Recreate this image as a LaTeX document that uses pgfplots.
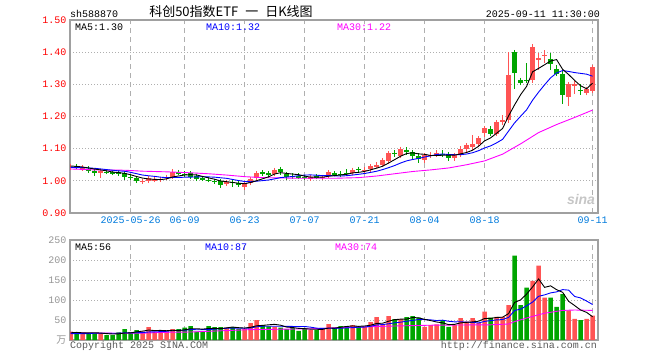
\documentclass[border=0pt]{standalone}
\usepackage{pgfplots}
\pgfplotsset{compat=1.18}
\usepackage{pgfplotstable}
\usepackage{fontspec}
\setmainfont{Liberation Mono}
\setsansfont{Liberation Sans}
\newfontfamily\cjk{Noto Sans CJK SC}
\definecolor{cred}{RGB}{255,84,84}
\definecolor{cgreen}{RGB}{0,165,0}
\definecolor{cdate}{RGB}{0,122,220}
\definecolor{cframe}{RGB}{160,160,160}
\definecolor{cgrid}{RGB}{175,175,175}
\definecolor{clabel}{RGB}{150,150,150}
\definecolor{ccopy}{RGB}{90,90,90}
\definecolor{cmag}{RGB}{255,0,255}

% up (red) candles: index open high low close volume
\pgfplotstableread{
i o h l c v
0 1.040 1.047 1.038 1.044 21
2 1.040 1.047 1.031 1.042 17
5 1.024 1.032 1.010 1.031 17
12 0.998 1.002 0.995 1.000 21
13 1.000 1.012 0.996 1.008 32
14 1.002 1.007 1.000 1.005 21
15 1.003 1.008 1.000 1.006 21
16 1.011 1.016 1.008 1.012 21
17 1.013 1.030 1.012 1.029 27
26 0.993 0.998 0.985 0.995 31
29 0.980 0.992 0.972 0.990 27
30 0.993 1.006 0.990 1.005 42
31 1.008 1.025 1.006 1.023 50
34 1.021 1.034 1.020 1.033 33
40 1.008 1.017 1.006 1.011 25
42 1.010 1.015 1.005 1.012 30
43 1.016 1.028 1.014 1.026 40
47 1.024 1.035 1.022 1.034 37
49 1.033 1.039 1.031 1.035 33
50 1.036 1.046 1.035 1.045 45
51 1.046 1.059 1.041 1.048 57
52 1.049 1.065 1.048 1.064 40
53 1.061 1.090 1.060 1.085 60
55 1.078 1.100 1.077 1.099 52
59 1.065 1.082 1.057 1.080 33
60 1.078 1.083 1.075 1.081 37
61 1.081 1.090 1.079 1.088 39
64 1.070 1.082 1.067 1.080 37
65 1.082 1.105 1.080 1.100 55
66 1.098 1.112 1.096 1.110 46
67 1.104 1.142 1.102 1.116 55
68 1.115 1.140 1.112 1.132 42
69 1.148 1.167 1.136 1.164 71
71 1.146 1.183 1.144 1.182 58
72 1.182 1.206 1.177 1.190 58
73 1.188 1.400 1.186 1.328 87
77 1.312 1.422 1.310 1.417 148
78 1.378 1.396 1.345 1.381 186
79 1.388 1.406 1.366 1.392 106
83 1.260 1.302 1.234 1.300 74
84 1.298 1.310 1.270 1.300 53
86 1.273 1.290 1.272 1.286 53
87 1.280 1.355 1.275 1.354 61
}\uptab

% down (green) candles
\pgfplotstableread{
i o h l c v
1 1.045 1.052 1.037 1.043 19
3 1.038 1.040 1.024 1.031 17
4 1.031 1.032 1.018 1.023 17
6 1.029 1.031 1.022 1.027 12
7 1.027 1.029 1.020 1.024 12
8 1.026 1.030 1.020 1.022 19
9 1.023 1.025 1.005 1.011 27
10 1.012 1.016 1.004 1.010 19
11 1.008 1.010 0.998 1.000 25
18 1.027 1.032 1.020 1.024 27
19 1.022 1.025 1.015 1.019 31
20 1.023 1.025 1.008 1.013 35
21 1.015 1.016 1.003 1.006 21
22 1.008 1.011 1.000 1.006 22
23 1.004 1.006 0.995 1.002 35
24 1.000 1.003 0.990 0.998 32
25 0.998 0.999 0.985 0.986 32
27 0.996 0.999 0.982 0.994 32
28 0.992 0.994 0.980 0.990 27
32 1.026 1.030 1.016 1.024 37
33 1.024 1.026 1.010 1.021 34
35 1.036 1.038 1.024 1.026 31
36 1.021 1.022 1.010 1.011 27
37 1.016 1.018 1.012 1.014 31
38 1.014 1.023 1.005 1.012 23
39 1.012 1.016 1.004 1.010 30
41 1.014 1.021 1.008 1.012 25
44 1.023 1.026 1.016 1.021 29
45 1.022 1.024 1.016 1.020 35
46 1.024 1.036 1.018 1.022 35
48 1.037 1.042 1.029 1.035 35
54 1.088 1.089 1.073 1.087 52
56 1.097 1.104 1.083 1.089 57
57 1.089 1.097 1.070 1.076 60
58 1.078 1.080 1.055 1.068 56
62 1.083 1.096 1.077 1.081 50
63 1.083 1.085 1.068 1.070 33
70 1.162 1.165 1.142 1.146 56
74 1.400 1.400 1.286 1.335 211
75 1.314 1.318 1.297 1.304 87
76 1.315 1.367 1.307 1.311 131
80 1.378 1.396 1.346 1.362 106
81 1.347 1.360 1.330 1.333 83
82 1.333 1.335 1.2375 1.266 115
85 1.283 1.300 1.266 1.279 50
}\downtab

% moving averages: price MA5, MA10; volume MA5, MA10
\pgfplotstableread{
i ma5 ma10 vma5 vma10
0 1.046 1.042 18 16
1 1.045 1.041 19 16
2 1.043 1.041 18 16
3 1.040 1.040 18 16
4 1.0366 1.039 18.2 17
5 1.034 1.037 17.4 17
6 1.031 1.035 16 17
7 1.0274 1.033 15 17
8 1.0256 1.031 15.4 17
9 1.0232 1.0299 17.4 17.8
10 1.019 1.0265 17.8 17.6
11 1.0134 1.0222 20.4 18.2
12 1.0086 1.018 22.2 18.6
13 1.0058 1.0157 24.8 20.1
14 1.0046 1.0139 23.6 20.5
15 1.0038 1.0114 24 20.9
16 1.0062 1.0098 23.2 21.8
17 1.012 1.0103 24.4 23.3
18 1.0152 1.0105 23.4 24.1
19 1.018 1.0113 25.4 24.5
20 1.0194 1.0116 28.2 26.1
21 1.0182 1.0122 28.2 25.7
22 1.0136 1.0128 27.2 25.8
23 1.0092 1.0122 28.8 26.1
24 1.005 1.0115 29 27.2
25 0.9996 1.0095 28.4 28.3
26 0.9974 1.0078 30.4 29.3
27 0.995 1.0043 32.4 29.8
28 0.9926 1.0009 30.8 29.8
29 0.991 0.998 29.8 29.4
30 0.9948 0.9972 31.8 30.1
31 1.0004 0.9989 35.6 33
32 1.0064 1.0007 36.6 34.5
33 1.0126 1.0026 38 34.4
34 1.0212 1.0061 39.2 34.5
35 1.0254 1.0101 37 34.4
36 1.023 1.0117 32.4 34
37 1.021 1.0137 31.2 33.9
38 1.0192 1.0159 29 33.5
39 1.0146 1.0179 28.4 33.8
40 1.0116 1.0185 27.2 32.1
41 1.0118 1.0174 26.8 29.6
42 1.0114 1.0162 26.6 28.9
43 1.0142 1.0167 30 29.5
44 1.0164 1.0155 29.8 29.1
45 1.0182 1.0149 31.8 29.5
46 1.0202 1.016 33.8 30.3
47 1.0246 1.018 35.2 30.9
48 1.0264 1.0203 34.2 32.1
49 1.0292 1.0228 35 32.4
50 1.0342 1.0262 37 34.4
51 1.0394 1.0298 41.4 37.6
52 1.0454 1.035 42 38.6
53 1.0554 1.0409 47 40.6
54 1.0658 1.0475 50.8 42.9
55 1.0766 1.0554 52.2 44.6
56 1.0848 1.0621 52.2 46.8
57 1.0872 1.0663 56.2 49.1
58 1.0838 1.0696 55.4 51.2
59 1.0824 1.0741 51.6 51.2
60 1.0788 1.0777 48.6 50.4
61 1.0786 1.0817 45 48.6
62 1.0796 1.0834 43 49.6
63 1.080 1.0819 38.4 46.9
64 1.080 1.0812 39.2 45.4
65 1.0838 1.0813 42.8 45.7
66 1.0882 1.0834 44.2 44.6
67 1.0952 1.0874 45.2 44.1
68 1.1076 1.0938 47 42.7
69 1.1244 1.1022 53.8 46.5
70 1.1336 1.1087 54 48.4
71 1.148 1.1181 56.4 50.3
72 1.1628 1.129 57 51.1
73 1.202 1.1548 66 56.5
74 1.2362 1.1803 94 73.9
75 1.2678 1.2007 100.2 77.1
76 1.2936 1.2208 114.8 85.6
77 1.339 1.2509 132.8 94.9
78 1.3496 1.2758 152.6 109.3
79 1.361 1.2986 131.6 112.8
80 1.3726 1.3202 135.4 117.8
81 1.377 1.3353 125.8 120.3
82 1.3468 1.3429 119.2 126
83 1.3306 1.3401 96.8 124.7
84 1.3122 1.3366 86.2 108.9
85 1.2956 1.3341 75 105.2
86 1.2862 1.3316 69 97.4
87 1.3038 1.3253 58.2 88.7
}\matab

\pgfplotsset{
  kbase/.style={scale only axis, width=528pt, xmin=-0.1, xmax=87.9,
    axis line style={draw=cframe, line width=1.2pt},
    major tick length=0pt,
    xtick={10,19,29,39,49,59,69,87},
    xmajorgrids, ymajorgrids,
    major x grid style={draw=cgrid, line width=1pt, dash pattern=on 5pt off 4pt},
    major y grid style={draw=cgrid, line width=0.9pt, dash pattern=on 1pt off 2pt},
    tick label style={font=\fontsize{10}{12}\selectfont},
  },
  wick/.style={draw=none, mark=none, forget plot,
    error bars/.cd, y dir=both, y explicit, error mark=none,
    error bar style={line width=1pt, draw=#1, solid}},
  body/.style={draw=none, mark=none, forget plot,
    error bars/.cd, y dir=both, y explicit, error mark=-,
    error bar style={line width=4.6pt, draw=#1, solid},
    error mark options={line width=1pt, mark size=2.3pt, draw=#1, solid}},
}

\begin{document}
\begin{tikzpicture}[font=\fontsize{10}{12}\selectfont]
\useasboundingbox (0,0) rectangle (660pt,360pt);

% ---------- price panel ----------
\begin{axis}[kbase, at={(70pt,147pt)}, anchor=south west, height=193pt,
  ymin=0.9, ymax=1.5, ytick={0.9,1.0,1.1,1.2,1.3,1.4,1.5},
  yticklabels={0.90,1.00,1.10,1.20,1.30,1.40,1.50},
  yticklabel style={text=red},
  xticklabels={2025-05-26,06-09,06-23,07-07,07-21,08-04,08-18,09-11},
  xticklabel style={text=cdate},
]
\addplot[wick=cred] table[x=i, y expr={(\thisrow{h}+\thisrow{l})/2}, y error expr={(\thisrow{h}-\thisrow{l})/2}] {\uptab};
\addplot[body=cred] table[x=i, y expr={(\thisrow{o}+\thisrow{c})/2}, y error expr={abs(\thisrow{c}-\thisrow{o})/2}] {\uptab};
\addplot[wick=cgreen] table[x=i, y expr={(\thisrow{h}+\thisrow{l})/2}, y error expr={(\thisrow{h}-\thisrow{l})/2}] {\downtab};
\addplot[body=cgreen] table[x=i, y expr={(\thisrow{o}+\thisrow{c})/2}, y error expr={abs(\thisrow{c}-\thisrow{o})/2}] {\downtab};
% MA30
\addplot[cmag, line width=0.9pt, mark=none] coordinates {
(0,1.037)(4,1.034)(9,1.033)(12,1.030)(16,1.028)(20,1.025)(23,1.022)(26,1.018)(29,1.013)(32,1.010)(38,1.008)(44,1.008)(48,1.010)(51,1.015)(54,1.022)(57,1.029)(60,1.034)(63,1.040)(66,1.050)(69,1.062)(72,1.083)(75,1.115)(78,1.150)(81,1.175)(84,1.197)(87,1.220)};
\addplot[blue, line width=0.9pt, mark=none] table[x=i, y=ma10] {\matab};
\addplot[black, line width=0.9pt, mark=none] table[x=i, y=ma5] {\matab};
\end{axis}

% ---------- volume panel ----------
\begin{axis}[kbase, at={(70pt,20pt)}, anchor=south west, height=100pt,
  ymin=0, ymax=250, ytick={0,50,100,150,200,250},
  yticklabels={{\cjk 万},50,100,150,200,250},
  yticklabel style={text=clabel},
  xticklabels={},
]
\addplot[ybar, bar width=4.6pt, bar shift=0pt, fill=cred, draw=none] table[x=i, y=v] {\uptab};
\addplot[ybar, bar width=4.6pt, bar shift=0pt, fill=cgreen, draw=none] table[x=i, y=v] {\downtab};
\addplot[cmag, line width=0.9pt, mark=none] coordinates {
(0,18)(7,17)(12,17)(15,19)(20,20)(25,23)(30,26)(40,28)(45,31)(54,35)(60,37)(70,38)(73,40)(74,46)(76,55)(79,67)(82,74)(84,75)(87,74)};
\addplot[blue, line width=0.9pt, mark=none] table[x=i, y=vma10] {\matab};
\addplot[black, line width=0.9pt, mark=none] table[x=i, y=vma5] {\matab};
\end{axis}

% ---------- texts ----------
\node[anchor=base west, inner sep=0] at (70pt,343pt) {sh588870};
\node[anchor=base, inner sep=0, font=\cjk\fontsize{13}{15}\selectfont] at (231pt,344pt) {科创50指数ETF\hspace{7pt}一\hspace{7pt}日K线图};
\node[anchor=base east, inner sep=0] at (600pt,343pt) {2025-09-11 11:30:00};
\node[anchor=base west, inner sep=0] at (75pt,330pt) {MA5:1.30};
\node[anchor=base west, inner sep=0, text=blue] at (206pt,330pt) {MA10:1.32};
\node[anchor=base west, inner sep=0, text=cmag] at (337pt,330pt) {MA30:1.22};
\node[anchor=base west, inner sep=0] at (75pt,110pt) {MA5:56};
\node[anchor=base west, inner sep=0, text=blue] at (205pt,110pt) {MA10:87};
\node[anchor=base west, inner sep=0, text=cmag] at (335pt,110pt) {MA30:74};
\node[anchor=base west, inner sep=0, text=ccopy] at (70pt,12pt) {Copyright 2025 SINA.COM};
\node[anchor=base east, inner sep=0, text=ccopy] at (597pt,12pt) {http://finance.sina.com.cn};
\node[anchor=base, inner sep=0, text=gray!45, font=\sffamily\bfseries\itshape\fontsize{14}{14}\selectfont] at (581pt,156pt) {sina};
\end{tikzpicture}
\end{document}
